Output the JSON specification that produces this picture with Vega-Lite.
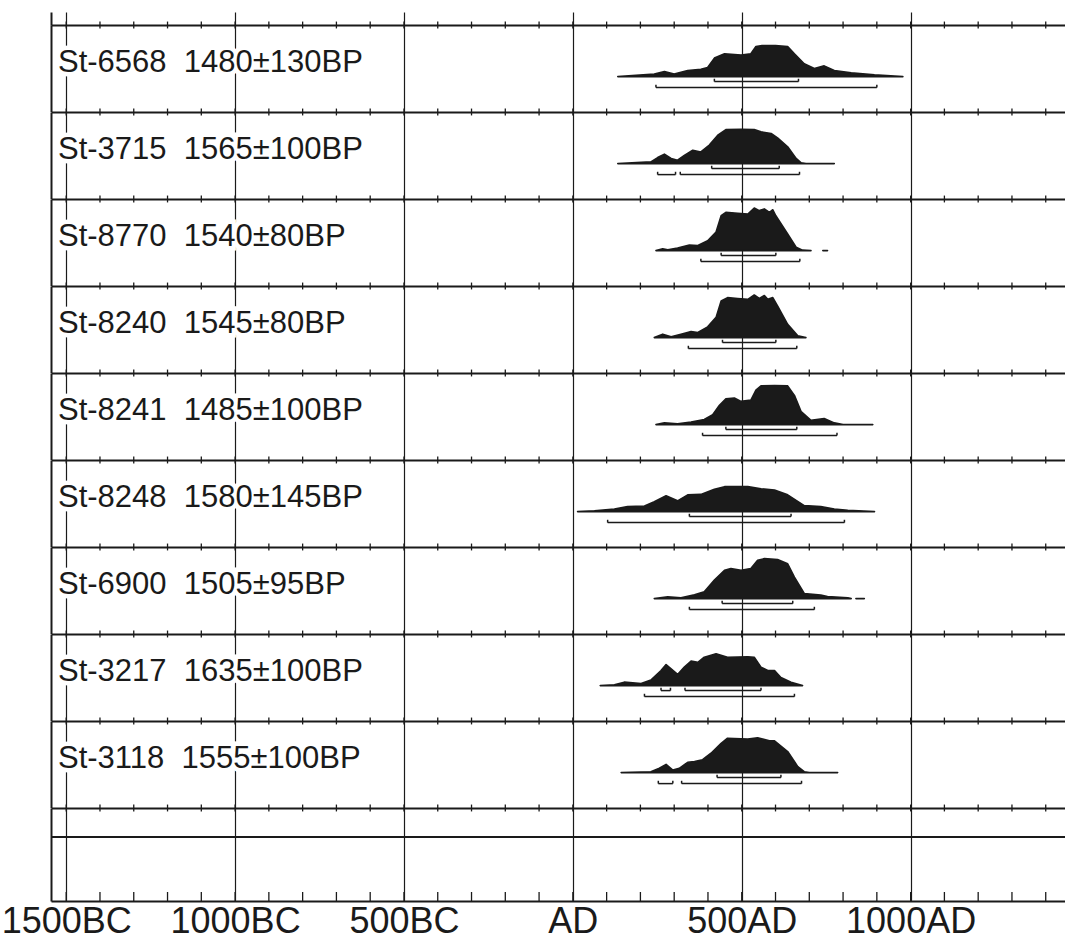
{
"$schema": "https://vega.github.io/schema/vega-lite/v6.json",
"background": "white",
"padding": {"left": 1, "top": 12, "right": 0, "bottom": 0},
"spacing": 0,
"bounds": "flush",
"config": {
  "view": {"stroke": null},
  "axis": {"domainColor": "#1a1a1a", "domainWidth": 2, "gridColor": "#1a1a1a", "gridWidth": 1.2, "gridOpacity": 1, "tickColor": "#1a1a1a", "labelColor": "#1a1a1a", "minExtent": 0, "maxExtent": 200}
},
"datasets": {
"ticks": [{"yr":-1500},{"yr":-1400},{"yr":-1300},{"yr":-1200},{"yr":-1100},{"yr":-1000},{"yr":-900},{"yr":-800},{"yr":-700},{"yr":-600},{"yr":-500},{"yr":-400},{"yr":-300},{"yr":-200},{"yr":-100},{"yr":0},{"yr":100},{"yr":200},{"yr":300},{"yr":400},{"yr":500},{"yr":600},{"yr":700},{"yr":800},{"yr":900},{"yr":1000},{"yr":1100},{"yr":1200},{"yr":1300},{"yr":1400}],
"labels": [
{"s":"St-6568","t":"St-6568\u00a0\u00a01480±130BP"},
{"s":"St-3715","t":"St-3715\u00a0\u00a01565±100BP"},
{"s":"St-8770","t":"St-8770\u00a0\u00a01540±80BP"},
{"s":"St-8240","t":"St-8240\u00a0\u00a01545±80BP"},
{"s":"St-8241","t":"St-8241\u00a0\u00a01485±100BP"},
{"s":"St-8248","t":"St-8248\u00a0\u00a01580±145BP"},
{"s":"St-6900","t":"St-6900\u00a0\u00a01505±95BP"},
{"s":"St-3217","t":"St-3217\u00a0\u00a01635±100BP"},
{"s":"St-3118","t":"St-3118\u00a0\u00a01555±100BP"}
],
"ranges": [
{"s":"St-6568","lv":68,"a":419,"b":668},{"s":"St-6568","lv":95,"a":246,"b":900},
{"s":"St-3715","lv":68,"a":411,"b":611},{"s":"St-3715","lv":95,"a":251,"b":304},{"s":"St-3715","lv":95,"a":318,"b":671},
{"s":"St-8770","lv":68,"a":439,"b":601},{"s":"St-8770","lv":95,"a":379,"b":672},
{"s":"St-8240","lv":68,"a":443,"b":601},{"s":"St-8240","lv":95,"a":342,"b":663},
{"s":"St-8241","lv":68,"a":453,"b":663},{"s":"St-8241","lv":95,"a":384,"b":782},
{"s":"St-8248","lv":68,"a":345,"b":646},{"s":"St-8248","lv":95,"a":103,"b":804},
{"s":"St-6900","lv":68,"a":442,"b":651},{"s":"St-6900","lv":95,"a":345,"b":715},
{"s":"St-3217","lv":68,"a":261,"b":289},{"s":"St-3217","lv":68,"a":332,"b":557},{"s":"St-3217","lv":95,"a":212,"b":656},
{"s":"St-3118","lv":68,"a":427,"b":616},{"s":"St-3118","lv":95,"a":253,"b":296},{"s":"St-3118","lv":95,"a":322,"b":677}
],
"dens": [
{"s":"St-6568","yr":133,"p":0},{"s":"St-6568","yr":241,"p":0.06},{"s":"St-6568","yr":271,"p":0.12},{"s":"St-6568","yr":300,"p":0.06},{"s":"St-6568","yr":340,"p":0.14},{"s":"St-6568","yr":379,"p":0.17},{"s":"St-6568","yr":399,"p":0.21},{"s":"St-6568","yr":419,"p":0.43},{"s":"St-6568","yr":449,"p":0.53},{"s":"St-6568","yr":498,"p":0.5},{"s":"St-6568","yr":527,"p":0.53},{"s":"St-6568","yr":542,"p":0.7},{"s":"St-6568","yr":560,"p":0.72},{"s":"St-6568","yr":600,"p":0.72},{"s":"St-6568","yr":636,"p":0.7},{"s":"St-6568","yr":656,"p":0.53},{"s":"St-6568","yr":685,"p":0.3},{"s":"St-6568","yr":715,"p":0.19},{"s":"St-6568","yr":744,"p":0.25},{"s":"St-6568","yr":774,"p":0.14},{"s":"St-6568","yr":824,"p":0.09},{"s":"St-6568","yr":893,"p":0.04},{"s":"St-6568","yr":977,"p":0},
{"s":"St-3715","yr":133,"p":0},{"s":"St-3715","yr":231,"p":0.04},{"s":"St-3715","yr":251,"p":0.14},{"s":"St-3715","yr":271,"p":0.22},{"s":"St-3715","yr":291,"p":0.12},{"s":"St-3715","yr":310,"p":0.08},{"s":"St-3715","yr":330,"p":0.19},{"s":"St-3715","yr":355,"p":0.31},{"s":"St-3715","yr":379,"p":0.27},{"s":"St-3715","yr":404,"p":0.43},{"s":"St-3715","yr":429,"p":0.66},{"s":"St-3715","yr":453,"p":0.79},{"s":"St-3715","yr":498,"p":0.8},{"s":"St-3715","yr":537,"p":0.79},{"s":"St-3715","yr":557,"p":0.74},{"s":"St-3715","yr":587,"p":0.7},{"s":"St-3715","yr":606,"p":0.6},{"s":"St-3715","yr":636,"p":0.39},{"s":"St-3715","yr":661,"p":0.12},{"s":"St-3715","yr":676,"p":0.02},{"s":"St-3715","yr":690,"p":0},{"s":"St-3715","yr":774,"p":0},
{"s":"St-8770","yr":246,"p":0},{"s":"St-8770","yr":266,"p":0.04},{"s":"St-8770","yr":281,"p":0.02},{"s":"St-8770","yr":310,"p":0.06},{"s":"St-8770","yr":345,"p":0.13},{"s":"St-8770","yr":370,"p":0.12},{"s":"St-8770","yr":399,"p":0.23},{"s":"St-8770","yr":424,"p":0.43},{"s":"St-8770","yr":439,"p":0.81},{"s":"St-8770","yr":453,"p":0.89},{"s":"St-8770","yr":488,"p":0.87},{"s":"St-8770","yr":518,"p":0.85},{"s":"St-8770","yr":537,"p":0.99},{"s":"St-8770","yr":552,"p":0.93},{"s":"St-8770","yr":567,"p":0.97},{"s":"St-8770","yr":582,"p":0.89},{"s":"St-8770","yr":592,"p":0.95},{"s":"St-8770","yr":601,"p":0.81},{"s":"St-8770","yr":636,"p":0.39},{"s":"St-8770","yr":661,"p":0.08},{"s":"St-8770","yr":680,"p":0.01},{"s":"St-8770","yr":705,"p":0},{"s":"St-8770","yr":740,"p":0,"g":2},{"s":"St-8770","yr":754,"p":0,"g":2},
{"s":"St-8240","yr":241,"p":0},{"s":"St-8240","yr":266,"p":0.08},{"s":"St-8240","yr":291,"p":0.02},{"s":"St-8240","yr":320,"p":0.08},{"s":"St-8240","yr":350,"p":0.14},{"s":"St-8240","yr":370,"p":0.12},{"s":"St-8240","yr":399,"p":0.25},{"s":"St-8240","yr":424,"p":0.47},{"s":"St-8240","yr":439,"p":0.85},{"s":"St-8240","yr":458,"p":0.93},{"s":"St-8240","yr":488,"p":0.91},{"s":"St-8240","yr":518,"p":0.89},{"s":"St-8240","yr":537,"p":0.99},{"s":"St-8240","yr":552,"p":0.91},{"s":"St-8240","yr":567,"p":0.98},{"s":"St-8240","yr":577,"p":0.89},{"s":"St-8240","yr":592,"p":0.93},{"s":"St-8240","yr":606,"p":0.74},{"s":"St-8240","yr":636,"p":0.31},{"s":"St-8240","yr":666,"p":0.04},{"s":"St-8240","yr":690,"p":0},
{"s":"St-8241","yr":246,"p":0},{"s":"St-8241","yr":271,"p":0.04},{"s":"St-8241","yr":310,"p":0.02},{"s":"St-8241","yr":350,"p":0.06},{"s":"St-8241","yr":389,"p":0.12},{"s":"St-8241","yr":414,"p":0.23},{"s":"St-8241","yr":434,"p":0.45},{"s":"St-8241","yr":453,"p":0.6},{"s":"St-8241","yr":478,"p":0.62},{"s":"St-8241","yr":498,"p":0.54},{"s":"St-8241","yr":527,"p":0.57},{"s":"St-8241","yr":542,"p":0.8},{"s":"St-8241","yr":557,"p":0.9},{"s":"St-8241","yr":597,"p":0.91},{"s":"St-8241","yr":636,"p":0.9},{"s":"St-8241","yr":656,"p":0.68},{"s":"St-8241","yr":676,"p":0.3},{"s":"St-8241","yr":705,"p":0.1},{"s":"St-8241","yr":744,"p":0.14},{"s":"St-8241","yr":774,"p":0.04},{"s":"St-8241","yr":800,"p":0},{"s":"St-8241","yr":888,"p":0},
{"s":"St-8248","yr":14,"p":0},{"s":"St-8248","yr":64,"p":0.02},{"s":"St-8248","yr":123,"p":0.06},{"s":"St-8248","yr":162,"p":0.12},{"s":"St-8248","yr":212,"p":0.13},{"s":"St-8248","yr":241,"p":0.23},{"s":"St-8248","yr":276,"p":0.37},{"s":"St-8248","yr":310,"p":0.25},{"s":"St-8248","yr":340,"p":0.39},{"s":"St-8248","yr":379,"p":0.4},{"s":"St-8248","yr":419,"p":0.52},{"s":"St-8248","yr":449,"p":0.58},{"s":"St-8248","yr":518,"p":0.58},{"s":"St-8248","yr":557,"p":0.53},{"s":"St-8248","yr":597,"p":0.5},{"s":"St-8248","yr":636,"p":0.39},{"s":"St-8248","yr":685,"p":0.14},{"s":"St-8248","yr":734,"p":0.12},{"s":"St-8248","yr":774,"p":0.06},{"s":"St-8248","yr":814,"p":0.03},{"s":"St-8248","yr":893,"p":0},
{"s":"St-6900","yr":241,"p":0},{"s":"St-6900","yr":281,"p":0.04},{"s":"St-6900","yr":320,"p":0.02},{"s":"St-6900","yr":360,"p":0.09},{"s":"St-6900","yr":389,"p":0.16},{"s":"St-6900","yr":419,"p":0.43},{"s":"St-6900","yr":449,"p":0.66},{"s":"St-6900","yr":468,"p":0.7},{"s":"St-6900","yr":498,"p":0.66},{"s":"St-6900","yr":527,"p":0.7},{"s":"St-6900","yr":547,"p":0.89},{"s":"St-6900","yr":567,"p":0.93},{"s":"St-6900","yr":606,"p":0.91},{"s":"St-6900","yr":636,"p":0.81},{"s":"St-6900","yr":656,"p":0.5},{"s":"St-6900","yr":685,"p":0.12},{"s":"St-6900","yr":734,"p":0.08},{"s":"St-6900","yr":754,"p":0.05},{"s":"St-6900","yr":814,"p":0.02},{"s":"St-6900","yr":824,"p":0},{"s":"St-6900","yr":838,"p":0,"g":2},{"s":"St-6900","yr":863,"p":0,"g":2},
{"s":"St-3217","yr":81,"p":0},{"s":"St-3217","yr":123,"p":0.02},{"s":"St-3217","yr":152,"p":0.08},{"s":"St-3217","yr":202,"p":0.05},{"s":"St-3217","yr":231,"p":0.13},{"s":"St-3217","yr":261,"p":0.35},{"s":"St-3217","yr":276,"p":0.49},{"s":"St-3217","yr":291,"p":0.39},{"s":"St-3217","yr":310,"p":0.26},{"s":"St-3217","yr":330,"p":0.43},{"s":"St-3217","yr":350,"p":0.57},{"s":"St-3217","yr":370,"p":0.54},{"s":"St-3217","yr":389,"p":0.66},{"s":"St-3217","yr":424,"p":0.74},{"s":"St-3217","yr":458,"p":0.66},{"s":"St-3217","yr":518,"p":0.67},{"s":"St-3217","yr":537,"p":0.66},{"s":"St-3217","yr":557,"p":0.43},{"s":"St-3217","yr":577,"p":0.35},{"s":"St-3217","yr":597,"p":0.35},{"s":"St-3217","yr":616,"p":0.19},{"s":"St-3217","yr":646,"p":0.08},{"s":"St-3217","yr":680,"p":0},
{"s":"St-3118","yr":143,"p":0},{"s":"St-3118","yr":231,"p":0.02},{"s":"St-3118","yr":256,"p":0.1},{"s":"St-3118","yr":276,"p":0.19},{"s":"St-3118","yr":296,"p":0.06},{"s":"St-3118","yr":315,"p":0.1},{"s":"St-3118","yr":340,"p":0.24},{"s":"St-3118","yr":360,"p":0.26},{"s":"St-3118","yr":384,"p":0.3},{"s":"St-3118","yr":409,"p":0.45},{"s":"St-3118","yr":439,"p":0.68},{"s":"St-3118","yr":458,"p":0.8},{"s":"St-3118","yr":518,"p":0.78},{"s":"St-3118","yr":547,"p":0.81},{"s":"St-3118","yr":582,"p":0.74},{"s":"St-3118","yr":597,"p":0.74},{"s":"St-3118","yr":636,"p":0.49},{"s":"St-3118","yr":666,"p":0.14},{"s":"St-3118","yr":685,"p":0.02},{"s":"St-3118","yr":700,"p":0},{"s":"St-3118","yr":784,"p":0}
]
},
"vconcat": [
{"width": 1015, "height": 13, "data": {"values": [{}]}, "mark": {"type": "point", "opacity": 0},
 "encoding": {"x": {"datum": 0, "type": "quantitative", "scale": {"domain": [-1545, 1460], "nice": false, "zero": false}, "axis": {"orient": "top", "values": [-1500,-1000,-500,0,500,1000], "grid": true, "ticks": false, "labels": false, "domain": false, "title": null}},
  "y": {"datum": 0, "type": "quantitative", "scale": {"domain": [0, 1], "nice": false, "zero": false}, "axis": {"orient": "left", "domain": true, "ticks": false, "labels": false, "grid": false, "title": null}}}},

{"width": 1015, "height": 86.58, "resolve": {"axis": {"x": "independent", "y": "independent"}}, "layer": [
 {"data": {"name": "ticks"}, "mark": {"type": "rule", "color": "#1a1a1a", "strokeWidth": 1.3}, "encoding": {"x": {"field": "yr", "type": "quantitative", "scale": {"domain": [-1545, 1460], "nice": false, "zero": false}, "axis": {"orient": "top", "values": [-1500,-1000,-500,0,500,1000], "grid": true, "ticks": false, "labels": false, "domain": true, "title": null}}, "y": {"datum": 1.28, "type": "quantitative", "scale": {"domain": [-0.8135, 1.2], "nice": false, "zero": false}, "axis": {"orient": "left", "domain": true, "ticks": false, "labels": false, "grid": false, "title": null}}, "y2": {"datum": 1.12}}},
 {"data": {"name": "dens"}, "transform": [{"filter": "datum.s=='St-6568'"}], "mark": {"type": "area", "fill": "#1a1a1a", "stroke": "#1a1a1a", "strokeWidth": 1.6, "strokeJoin": "round"}, "encoding": {"x": {"field": "yr", "type": "quantitative", "axis": null}, "y": {"field": "p", "type": "quantitative", "axis": null, "stack": null}, "y2": {"datum": 0}, "detail": {"field": "g"}}},
 {"data": {"name": "ranges"}, "transform": [{"filter": "datum.s=='St-6568' && datum.lv==68"}], "mark": {"type": "rule", "color": "#1a1a1a", "strokeWidth": 1.5}, "encoding": {"x": {"field": "a", "type": "quantitative", "axis": null}, "x2": {"field": "b"}, "y": {"datum": -0.116, "type": "quantitative", "axis": null}}},
 {"data": {"name": "ranges"}, "transform": [{"filter": "datum.s=='St-6568' && datum.lv==95"}], "mark": {"type": "rule", "color": "#1a1a1a", "strokeWidth": 1.5}, "encoding": {"x": {"field": "a", "type": "quantitative", "axis": null}, "x2": {"field": "b"}, "y": {"datum": -0.256, "type": "quantitative", "axis": null}}},
 {"data": {"name": "ranges"}, "transform": [{"filter": "datum.s=='St-6568' && datum.lv==68"}, {"fold": ["a", "b"], "as": ["k", "e"]}], "mark": {"type": "rule", "color": "#1a1a1a", "strokeWidth": 1.5}, "encoding": {"x": {"field": "e", "type": "quantitative", "axis": null}, "y": {"datum": -0.116, "type": "quantitative", "axis": null}, "y2": {"datum": -0.05}}},
 {"data": {"name": "ranges"}, "transform": [{"filter": "datum.s=='St-6568' && datum.lv==95"}, {"fold": ["a", "b"], "as": ["k", "e"]}], "mark": {"type": "rule", "color": "#1a1a1a", "strokeWidth": 1.5}, "encoding": {"x": {"field": "e", "type": "quantitative", "axis": null}, "y": {"datum": -0.256, "type": "quantitative", "axis": null}, "y2": {"datum": -0.19}}},
 {"data": {"name": "labels"}, "transform": [{"filter": "datum.s=='St-6568'"}], "mark": {"type": "text", "align": "left", "baseline": "alphabetic", "dx": 7, "font": "Liberation Sans", "fontSize": 31, "fill": "white", "stroke": "white", "strokeWidth": 9}, "encoding": {"text": {"field": "t"}, "x": {"datum": -1545, "type": "quantitative", "axis": null}, "y": {"datum": 0.1, "type": "quantitative", "axis": null}}},
 {"data": {"name": "labels"}, "transform": [{"filter": "datum.s=='St-6568'"}], "mark": {"type": "text", "align": "left", "baseline": "alphabetic", "dx": 7, "font": "Liberation Sans", "fontSize": 31, "fill": "#1a1a1a"}, "encoding": {"text": {"field": "t"}, "x": {"datum": -1545, "type": "quantitative", "axis": null}, "y": {"datum": 0.1, "type": "quantitative", "axis": null}}}
]},

{"width": 1015, "height": 86.58, "resolve": {"axis": {"x": "independent", "y": "independent"}}, "layer": [
 {"data": {"name": "ticks"}, "mark": {"type": "rule", "color": "#1a1a1a", "strokeWidth": 1.3}, "encoding": {"x": {"field": "yr", "type": "quantitative", "scale": {"domain": [-1545, 1460], "nice": false, "zero": false}, "axis": {"orient": "top", "values": [-1500,-1000,-500,0,500,1000], "grid": true, "ticks": false, "labels": false, "domain": true, "title": null}}, "y": {"datum": 1.28, "type": "quantitative", "scale": {"domain": [-0.8135, 1.2], "nice": false, "zero": false}, "axis": {"orient": "left", "domain": true, "ticks": false, "labels": false, "grid": false, "title": null}}, "y2": {"datum": 1.12}}},
 {"data": {"name": "dens"}, "transform": [{"filter": "datum.s=='St-3715'"}], "mark": {"type": "area", "fill": "#1a1a1a", "stroke": "#1a1a1a", "strokeWidth": 1.6, "strokeJoin": "round"}, "encoding": {"x": {"field": "yr", "type": "quantitative", "axis": null}, "y": {"field": "p", "type": "quantitative", "axis": null, "stack": null}, "y2": {"datum": 0}, "detail": {"field": "g"}}},
 {"data": {"name": "ranges"}, "transform": [{"filter": "datum.s=='St-3715' && datum.lv==68"}], "mark": {"type": "rule", "color": "#1a1a1a", "strokeWidth": 1.5}, "encoding": {"x": {"field": "a", "type": "quantitative", "axis": null}, "x2": {"field": "b"}, "y": {"datum": -0.116, "type": "quantitative", "axis": null}}},
 {"data": {"name": "ranges"}, "transform": [{"filter": "datum.s=='St-3715' && datum.lv==95"}], "mark": {"type": "rule", "color": "#1a1a1a", "strokeWidth": 1.5}, "encoding": {"x": {"field": "a", "type": "quantitative", "axis": null}, "x2": {"field": "b"}, "y": {"datum": -0.256, "type": "quantitative", "axis": null}}},
 {"data": {"name": "ranges"}, "transform": [{"filter": "datum.s=='St-3715' && datum.lv==68"}, {"fold": ["a", "b"], "as": ["k", "e"]}], "mark": {"type": "rule", "color": "#1a1a1a", "strokeWidth": 1.5}, "encoding": {"x": {"field": "e", "type": "quantitative", "axis": null}, "y": {"datum": -0.116, "type": "quantitative", "axis": null}, "y2": {"datum": -0.05}}},
 {"data": {"name": "ranges"}, "transform": [{"filter": "datum.s=='St-3715' && datum.lv==95"}, {"fold": ["a", "b"], "as": ["k", "e"]}], "mark": {"type": "rule", "color": "#1a1a1a", "strokeWidth": 1.5}, "encoding": {"x": {"field": "e", "type": "quantitative", "axis": null}, "y": {"datum": -0.256, "type": "quantitative", "axis": null}, "y2": {"datum": -0.19}}},
 {"data": {"name": "labels"}, "transform": [{"filter": "datum.s=='St-3715'"}], "mark": {"type": "text", "align": "left", "baseline": "alphabetic", "dx": 7, "font": "Liberation Sans", "fontSize": 31, "fill": "white", "stroke": "white", "strokeWidth": 9}, "encoding": {"text": {"field": "t"}, "x": {"datum": -1545, "type": "quantitative", "axis": null}, "y": {"datum": 0.1, "type": "quantitative", "axis": null}}},
 {"data": {"name": "labels"}, "transform": [{"filter": "datum.s=='St-3715'"}], "mark": {"type": "text", "align": "left", "baseline": "alphabetic", "dx": 7, "font": "Liberation Sans", "fontSize": 31, "fill": "#1a1a1a"}, "encoding": {"text": {"field": "t"}, "x": {"datum": -1545, "type": "quantitative", "axis": null}, "y": {"datum": 0.1, "type": "quantitative", "axis": null}}}
]},

{"width": 1015, "height": 86.58, "resolve": {"axis": {"x": "independent", "y": "independent"}}, "layer": [
 {"data": {"name": "ticks"}, "mark": {"type": "rule", "color": "#1a1a1a", "strokeWidth": 1.3}, "encoding": {"x": {"field": "yr", "type": "quantitative", "scale": {"domain": [-1545, 1460], "nice": false, "zero": false}, "axis": {"orient": "top", "values": [-1500,-1000,-500,0,500,1000], "grid": true, "ticks": false, "labels": false, "domain": true, "title": null}}, "y": {"datum": 1.28, "type": "quantitative", "scale": {"domain": [-0.8135, 1.2], "nice": false, "zero": false}, "axis": {"orient": "left", "domain": true, "ticks": false, "labels": false, "grid": false, "title": null}}, "y2": {"datum": 1.12}}},
 {"data": {"name": "dens"}, "transform": [{"filter": "datum.s=='St-8770'"}], "mark": {"type": "area", "fill": "#1a1a1a", "stroke": "#1a1a1a", "strokeWidth": 1.6, "strokeJoin": "round"}, "encoding": {"x": {"field": "yr", "type": "quantitative", "axis": null}, "y": {"field": "p", "type": "quantitative", "axis": null, "stack": null}, "y2": {"datum": 0}, "detail": {"field": "g"}}},
 {"data": {"name": "ranges"}, "transform": [{"filter": "datum.s=='St-8770' && datum.lv==68"}], "mark": {"type": "rule", "color": "#1a1a1a", "strokeWidth": 1.5}, "encoding": {"x": {"field": "a", "type": "quantitative", "axis": null}, "x2": {"field": "b"}, "y": {"datum": -0.116, "type": "quantitative", "axis": null}}},
 {"data": {"name": "ranges"}, "transform": [{"filter": "datum.s=='St-8770' && datum.lv==95"}], "mark": {"type": "rule", "color": "#1a1a1a", "strokeWidth": 1.5}, "encoding": {"x": {"field": "a", "type": "quantitative", "axis": null}, "x2": {"field": "b"}, "y": {"datum": -0.256, "type": "quantitative", "axis": null}}},
 {"data": {"name": "ranges"}, "transform": [{"filter": "datum.s=='St-8770' && datum.lv==68"}, {"fold": ["a", "b"], "as": ["k", "e"]}], "mark": {"type": "rule", "color": "#1a1a1a", "strokeWidth": 1.5}, "encoding": {"x": {"field": "e", "type": "quantitative", "axis": null}, "y": {"datum": -0.116, "type": "quantitative", "axis": null}, "y2": {"datum": -0.05}}},
 {"data": {"name": "ranges"}, "transform": [{"filter": "datum.s=='St-8770' && datum.lv==95"}, {"fold": ["a", "b"], "as": ["k", "e"]}], "mark": {"type": "rule", "color": "#1a1a1a", "strokeWidth": 1.5}, "encoding": {"x": {"field": "e", "type": "quantitative", "axis": null}, "y": {"datum": -0.256, "type": "quantitative", "axis": null}, "y2": {"datum": -0.19}}},
 {"data": {"name": "labels"}, "transform": [{"filter": "datum.s=='St-8770'"}], "mark": {"type": "text", "align": "left", "baseline": "alphabetic", "dx": 7, "font": "Liberation Sans", "fontSize": 31, "fill": "white", "stroke": "white", "strokeWidth": 9}, "encoding": {"text": {"field": "t"}, "x": {"datum": -1545, "type": "quantitative", "axis": null}, "y": {"datum": 0.1, "type": "quantitative", "axis": null}}},
 {"data": {"name": "labels"}, "transform": [{"filter": "datum.s=='St-8770'"}], "mark": {"type": "text", "align": "left", "baseline": "alphabetic", "dx": 7, "font": "Liberation Sans", "fontSize": 31, "fill": "#1a1a1a"}, "encoding": {"text": {"field": "t"}, "x": {"datum": -1545, "type": "quantitative", "axis": null}, "y": {"datum": 0.1, "type": "quantitative", "axis": null}}}
]},

{"width": 1015, "height": 86.58, "resolve": {"axis": {"x": "independent", "y": "independent"}}, "layer": [
 {"data": {"name": "ticks"}, "mark": {"type": "rule", "color": "#1a1a1a", "strokeWidth": 1.3}, "encoding": {"x": {"field": "yr", "type": "quantitative", "scale": {"domain": [-1545, 1460], "nice": false, "zero": false}, "axis": {"orient": "top", "values": [-1500,-1000,-500,0,500,1000], "grid": true, "ticks": false, "labels": false, "domain": true, "title": null}}, "y": {"datum": 1.28, "type": "quantitative", "scale": {"domain": [-0.8135, 1.2], "nice": false, "zero": false}, "axis": {"orient": "left", "domain": true, "ticks": false, "labels": false, "grid": false, "title": null}}, "y2": {"datum": 1.12}}},
 {"data": {"name": "dens"}, "transform": [{"filter": "datum.s=='St-8240'"}], "mark": {"type": "area", "fill": "#1a1a1a", "stroke": "#1a1a1a", "strokeWidth": 1.6, "strokeJoin": "round"}, "encoding": {"x": {"field": "yr", "type": "quantitative", "axis": null}, "y": {"field": "p", "type": "quantitative", "axis": null, "stack": null}, "y2": {"datum": 0}, "detail": {"field": "g"}}},
 {"data": {"name": "ranges"}, "transform": [{"filter": "datum.s=='St-8240' && datum.lv==68"}], "mark": {"type": "rule", "color": "#1a1a1a", "strokeWidth": 1.5}, "encoding": {"x": {"field": "a", "type": "quantitative", "axis": null}, "x2": {"field": "b"}, "y": {"datum": -0.116, "type": "quantitative", "axis": null}}},
 {"data": {"name": "ranges"}, "transform": [{"filter": "datum.s=='St-8240' && datum.lv==95"}], "mark": {"type": "rule", "color": "#1a1a1a", "strokeWidth": 1.5}, "encoding": {"x": {"field": "a", "type": "quantitative", "axis": null}, "x2": {"field": "b"}, "y": {"datum": -0.256, "type": "quantitative", "axis": null}}},
 {"data": {"name": "ranges"}, "transform": [{"filter": "datum.s=='St-8240' && datum.lv==68"}, {"fold": ["a", "b"], "as": ["k", "e"]}], "mark": {"type": "rule", "color": "#1a1a1a", "strokeWidth": 1.5}, "encoding": {"x": {"field": "e", "type": "quantitative", "axis": null}, "y": {"datum": -0.116, "type": "quantitative", "axis": null}, "y2": {"datum": -0.05}}},
 {"data": {"name": "ranges"}, "transform": [{"filter": "datum.s=='St-8240' && datum.lv==95"}, {"fold": ["a", "b"], "as": ["k", "e"]}], "mark": {"type": "rule", "color": "#1a1a1a", "strokeWidth": 1.5}, "encoding": {"x": {"field": "e", "type": "quantitative", "axis": null}, "y": {"datum": -0.256, "type": "quantitative", "axis": null}, "y2": {"datum": -0.19}}},
 {"data": {"name": "labels"}, "transform": [{"filter": "datum.s=='St-8240'"}], "mark": {"type": "text", "align": "left", "baseline": "alphabetic", "dx": 7, "font": "Liberation Sans", "fontSize": 31, "fill": "white", "stroke": "white", "strokeWidth": 9}, "encoding": {"text": {"field": "t"}, "x": {"datum": -1545, "type": "quantitative", "axis": null}, "y": {"datum": 0.1, "type": "quantitative", "axis": null}}},
 {"data": {"name": "labels"}, "transform": [{"filter": "datum.s=='St-8240'"}], "mark": {"type": "text", "align": "left", "baseline": "alphabetic", "dx": 7, "font": "Liberation Sans", "fontSize": 31, "fill": "#1a1a1a"}, "encoding": {"text": {"field": "t"}, "x": {"datum": -1545, "type": "quantitative", "axis": null}, "y": {"datum": 0.1, "type": "quantitative", "axis": null}}}
]},

{"width": 1015, "height": 86.58, "resolve": {"axis": {"x": "independent", "y": "independent"}}, "layer": [
 {"data": {"name": "ticks"}, "mark": {"type": "rule", "color": "#1a1a1a", "strokeWidth": 1.3}, "encoding": {"x": {"field": "yr", "type": "quantitative", "scale": {"domain": [-1545, 1460], "nice": false, "zero": false}, "axis": {"orient": "top", "values": [-1500,-1000,-500,0,500,1000], "grid": true, "ticks": false, "labels": false, "domain": true, "title": null}}, "y": {"datum": 1.28, "type": "quantitative", "scale": {"domain": [-0.8135, 1.2], "nice": false, "zero": false}, "axis": {"orient": "left", "domain": true, "ticks": false, "labels": false, "grid": false, "title": null}}, "y2": {"datum": 1.12}}},
 {"data": {"name": "dens"}, "transform": [{"filter": "datum.s=='St-8241'"}], "mark": {"type": "area", "fill": "#1a1a1a", "stroke": "#1a1a1a", "strokeWidth": 1.6, "strokeJoin": "round"}, "encoding": {"x": {"field": "yr", "type": "quantitative", "axis": null}, "y": {"field": "p", "type": "quantitative", "axis": null, "stack": null}, "y2": {"datum": 0}, "detail": {"field": "g"}}},
 {"data": {"name": "ranges"}, "transform": [{"filter": "datum.s=='St-8241' && datum.lv==68"}], "mark": {"type": "rule", "color": "#1a1a1a", "strokeWidth": 1.5}, "encoding": {"x": {"field": "a", "type": "quantitative", "axis": null}, "x2": {"field": "b"}, "y": {"datum": -0.116, "type": "quantitative", "axis": null}}},
 {"data": {"name": "ranges"}, "transform": [{"filter": "datum.s=='St-8241' && datum.lv==95"}], "mark": {"type": "rule", "color": "#1a1a1a", "strokeWidth": 1.5}, "encoding": {"x": {"field": "a", "type": "quantitative", "axis": null}, "x2": {"field": "b"}, "y": {"datum": -0.256, "type": "quantitative", "axis": null}}},
 {"data": {"name": "ranges"}, "transform": [{"filter": "datum.s=='St-8241' && datum.lv==68"}, {"fold": ["a", "b"], "as": ["k", "e"]}], "mark": {"type": "rule", "color": "#1a1a1a", "strokeWidth": 1.5}, "encoding": {"x": {"field": "e", "type": "quantitative", "axis": null}, "y": {"datum": -0.116, "type": "quantitative", "axis": null}, "y2": {"datum": -0.05}}},
 {"data": {"name": "ranges"}, "transform": [{"filter": "datum.s=='St-8241' && datum.lv==95"}, {"fold": ["a", "b"], "as": ["k", "e"]}], "mark": {"type": "rule", "color": "#1a1a1a", "strokeWidth": 1.5}, "encoding": {"x": {"field": "e", "type": "quantitative", "axis": null}, "y": {"datum": -0.256, "type": "quantitative", "axis": null}, "y2": {"datum": -0.19}}},
 {"data": {"name": "labels"}, "transform": [{"filter": "datum.s=='St-8241'"}], "mark": {"type": "text", "align": "left", "baseline": "alphabetic", "dx": 7, "font": "Liberation Sans", "fontSize": 31, "fill": "white", "stroke": "white", "strokeWidth": 9}, "encoding": {"text": {"field": "t"}, "x": {"datum": -1545, "type": "quantitative", "axis": null}, "y": {"datum": 0.1, "type": "quantitative", "axis": null}}},
 {"data": {"name": "labels"}, "transform": [{"filter": "datum.s=='St-8241'"}], "mark": {"type": "text", "align": "left", "baseline": "alphabetic", "dx": 7, "font": "Liberation Sans", "fontSize": 31, "fill": "#1a1a1a"}, "encoding": {"text": {"field": "t"}, "x": {"datum": -1545, "type": "quantitative", "axis": null}, "y": {"datum": 0.1, "type": "quantitative", "axis": null}}}
]},

{"width": 1015, "height": 86.58, "resolve": {"axis": {"x": "independent", "y": "independent"}}, "layer": [
 {"data": {"name": "ticks"}, "mark": {"type": "rule", "color": "#1a1a1a", "strokeWidth": 1.3}, "encoding": {"x": {"field": "yr", "type": "quantitative", "scale": {"domain": [-1545, 1460], "nice": false, "zero": false}, "axis": {"orient": "top", "values": [-1500,-1000,-500,0,500,1000], "grid": true, "ticks": false, "labels": false, "domain": true, "title": null}}, "y": {"datum": 1.28, "type": "quantitative", "scale": {"domain": [-0.8135, 1.2], "nice": false, "zero": false}, "axis": {"orient": "left", "domain": true, "ticks": false, "labels": false, "grid": false, "title": null}}, "y2": {"datum": 1.12}}},
 {"data": {"name": "dens"}, "transform": [{"filter": "datum.s=='St-8248'"}], "mark": {"type": "area", "fill": "#1a1a1a", "stroke": "#1a1a1a", "strokeWidth": 1.6, "strokeJoin": "round"}, "encoding": {"x": {"field": "yr", "type": "quantitative", "axis": null}, "y": {"field": "p", "type": "quantitative", "axis": null, "stack": null}, "y2": {"datum": 0}, "detail": {"field": "g"}}},
 {"data": {"name": "ranges"}, "transform": [{"filter": "datum.s=='St-8248' && datum.lv==68"}], "mark": {"type": "rule", "color": "#1a1a1a", "strokeWidth": 1.5}, "encoding": {"x": {"field": "a", "type": "quantitative", "axis": null}, "x2": {"field": "b"}, "y": {"datum": -0.116, "type": "quantitative", "axis": null}}},
 {"data": {"name": "ranges"}, "transform": [{"filter": "datum.s=='St-8248' && datum.lv==95"}], "mark": {"type": "rule", "color": "#1a1a1a", "strokeWidth": 1.5}, "encoding": {"x": {"field": "a", "type": "quantitative", "axis": null}, "x2": {"field": "b"}, "y": {"datum": -0.256, "type": "quantitative", "axis": null}}},
 {"data": {"name": "ranges"}, "transform": [{"filter": "datum.s=='St-8248' && datum.lv==68"}, {"fold": ["a", "b"], "as": ["k", "e"]}], "mark": {"type": "rule", "color": "#1a1a1a", "strokeWidth": 1.5}, "encoding": {"x": {"field": "e", "type": "quantitative", "axis": null}, "y": {"datum": -0.116, "type": "quantitative", "axis": null}, "y2": {"datum": -0.05}}},
 {"data": {"name": "ranges"}, "transform": [{"filter": "datum.s=='St-8248' && datum.lv==95"}, {"fold": ["a", "b"], "as": ["k", "e"]}], "mark": {"type": "rule", "color": "#1a1a1a", "strokeWidth": 1.5}, "encoding": {"x": {"field": "e", "type": "quantitative", "axis": null}, "y": {"datum": -0.256, "type": "quantitative", "axis": null}, "y2": {"datum": -0.19}}},
 {"data": {"name": "labels"}, "transform": [{"filter": "datum.s=='St-8248'"}], "mark": {"type": "text", "align": "left", "baseline": "alphabetic", "dx": 7, "font": "Liberation Sans", "fontSize": 31, "fill": "white", "stroke": "white", "strokeWidth": 9}, "encoding": {"text": {"field": "t"}, "x": {"datum": -1545, "type": "quantitative", "axis": null}, "y": {"datum": 0.1, "type": "quantitative", "axis": null}}},
 {"data": {"name": "labels"}, "transform": [{"filter": "datum.s=='St-8248'"}], "mark": {"type": "text", "align": "left", "baseline": "alphabetic", "dx": 7, "font": "Liberation Sans", "fontSize": 31, "fill": "#1a1a1a"}, "encoding": {"text": {"field": "t"}, "x": {"datum": -1545, "type": "quantitative", "axis": null}, "y": {"datum": 0.1, "type": "quantitative", "axis": null}}}
]},

{"width": 1015, "height": 86.58, "resolve": {"axis": {"x": "independent", "y": "independent"}}, "layer": [
 {"data": {"name": "ticks"}, "mark": {"type": "rule", "color": "#1a1a1a", "strokeWidth": 1.3}, "encoding": {"x": {"field": "yr", "type": "quantitative", "scale": {"domain": [-1545, 1460], "nice": false, "zero": false}, "axis": {"orient": "top", "values": [-1500,-1000,-500,0,500,1000], "grid": true, "ticks": false, "labels": false, "domain": true, "title": null}}, "y": {"datum": 1.28, "type": "quantitative", "scale": {"domain": [-0.8135, 1.2], "nice": false, "zero": false}, "axis": {"orient": "left", "domain": true, "ticks": false, "labels": false, "grid": false, "title": null}}, "y2": {"datum": 1.12}}},
 {"data": {"name": "dens"}, "transform": [{"filter": "datum.s=='St-6900'"}], "mark": {"type": "area", "fill": "#1a1a1a", "stroke": "#1a1a1a", "strokeWidth": 1.6, "strokeJoin": "round"}, "encoding": {"x": {"field": "yr", "type": "quantitative", "axis": null}, "y": {"field": "p", "type": "quantitative", "axis": null, "stack": null}, "y2": {"datum": 0}, "detail": {"field": "g"}}},
 {"data": {"name": "ranges"}, "transform": [{"filter": "datum.s=='St-6900' && datum.lv==68"}], "mark": {"type": "rule", "color": "#1a1a1a", "strokeWidth": 1.5}, "encoding": {"x": {"field": "a", "type": "quantitative", "axis": null}, "x2": {"field": "b"}, "y": {"datum": -0.116, "type": "quantitative", "axis": null}}},
 {"data": {"name": "ranges"}, "transform": [{"filter": "datum.s=='St-6900' && datum.lv==95"}], "mark": {"type": "rule", "color": "#1a1a1a", "strokeWidth": 1.5}, "encoding": {"x": {"field": "a", "type": "quantitative", "axis": null}, "x2": {"field": "b"}, "y": {"datum": -0.256, "type": "quantitative", "axis": null}}},
 {"data": {"name": "ranges"}, "transform": [{"filter": "datum.s=='St-6900' && datum.lv==68"}, {"fold": ["a", "b"], "as": ["k", "e"]}], "mark": {"type": "rule", "color": "#1a1a1a", "strokeWidth": 1.5}, "encoding": {"x": {"field": "e", "type": "quantitative", "axis": null}, "y": {"datum": -0.116, "type": "quantitative", "axis": null}, "y2": {"datum": -0.05}}},
 {"data": {"name": "ranges"}, "transform": [{"filter": "datum.s=='St-6900' && datum.lv==95"}, {"fold": ["a", "b"], "as": ["k", "e"]}], "mark": {"type": "rule", "color": "#1a1a1a", "strokeWidth": 1.5}, "encoding": {"x": {"field": "e", "type": "quantitative", "axis": null}, "y": {"datum": -0.256, "type": "quantitative", "axis": null}, "y2": {"datum": -0.19}}},
 {"data": {"name": "labels"}, "transform": [{"filter": "datum.s=='St-6900'"}], "mark": {"type": "text", "align": "left", "baseline": "alphabetic", "dx": 7, "font": "Liberation Sans", "fontSize": 31, "fill": "white", "stroke": "white", "strokeWidth": 9}, "encoding": {"text": {"field": "t"}, "x": {"datum": -1545, "type": "quantitative", "axis": null}, "y": {"datum": 0.1, "type": "quantitative", "axis": null}}},
 {"data": {"name": "labels"}, "transform": [{"filter": "datum.s=='St-6900'"}], "mark": {"type": "text", "align": "left", "baseline": "alphabetic", "dx": 7, "font": "Liberation Sans", "fontSize": 31, "fill": "#1a1a1a"}, "encoding": {"text": {"field": "t"}, "x": {"datum": -1545, "type": "quantitative", "axis": null}, "y": {"datum": 0.1, "type": "quantitative", "axis": null}}}
]},

{"width": 1015, "height": 86.58, "resolve": {"axis": {"x": "independent", "y": "independent"}}, "layer": [
 {"data": {"name": "ticks"}, "mark": {"type": "rule", "color": "#1a1a1a", "strokeWidth": 1.3}, "encoding": {"x": {"field": "yr", "type": "quantitative", "scale": {"domain": [-1545, 1460], "nice": false, "zero": false}, "axis": {"orient": "top", "values": [-1500,-1000,-500,0,500,1000], "grid": true, "ticks": false, "labels": false, "domain": true, "title": null}}, "y": {"datum": 1.28, "type": "quantitative", "scale": {"domain": [-0.8135, 1.2], "nice": false, "zero": false}, "axis": {"orient": "left", "domain": true, "ticks": false, "labels": false, "grid": false, "title": null}}, "y2": {"datum": 1.12}}},
 {"data": {"name": "dens"}, "transform": [{"filter": "datum.s=='St-3217'"}], "mark": {"type": "area", "fill": "#1a1a1a", "stroke": "#1a1a1a", "strokeWidth": 1.6, "strokeJoin": "round"}, "encoding": {"x": {"field": "yr", "type": "quantitative", "axis": null}, "y": {"field": "p", "type": "quantitative", "axis": null, "stack": null}, "y2": {"datum": 0}, "detail": {"field": "g"}}},
 {"data": {"name": "ranges"}, "transform": [{"filter": "datum.s=='St-3217' && datum.lv==68"}], "mark": {"type": "rule", "color": "#1a1a1a", "strokeWidth": 1.5}, "encoding": {"x": {"field": "a", "type": "quantitative", "axis": null}, "x2": {"field": "b"}, "y": {"datum": -0.116, "type": "quantitative", "axis": null}}},
 {"data": {"name": "ranges"}, "transform": [{"filter": "datum.s=='St-3217' && datum.lv==95"}], "mark": {"type": "rule", "color": "#1a1a1a", "strokeWidth": 1.5}, "encoding": {"x": {"field": "a", "type": "quantitative", "axis": null}, "x2": {"field": "b"}, "y": {"datum": -0.256, "type": "quantitative", "axis": null}}},
 {"data": {"name": "ranges"}, "transform": [{"filter": "datum.s=='St-3217' && datum.lv==68"}, {"fold": ["a", "b"], "as": ["k", "e"]}], "mark": {"type": "rule", "color": "#1a1a1a", "strokeWidth": 1.5}, "encoding": {"x": {"field": "e", "type": "quantitative", "axis": null}, "y": {"datum": -0.116, "type": "quantitative", "axis": null}, "y2": {"datum": -0.05}}},
 {"data": {"name": "ranges"}, "transform": [{"filter": "datum.s=='St-3217' && datum.lv==95"}, {"fold": ["a", "b"], "as": ["k", "e"]}], "mark": {"type": "rule", "color": "#1a1a1a", "strokeWidth": 1.5}, "encoding": {"x": {"field": "e", "type": "quantitative", "axis": null}, "y": {"datum": -0.256, "type": "quantitative", "axis": null}, "y2": {"datum": -0.19}}},
 {"data": {"name": "labels"}, "transform": [{"filter": "datum.s=='St-3217'"}], "mark": {"type": "text", "align": "left", "baseline": "alphabetic", "dx": 7, "font": "Liberation Sans", "fontSize": 31, "fill": "white", "stroke": "white", "strokeWidth": 9}, "encoding": {"text": {"field": "t"}, "x": {"datum": -1545, "type": "quantitative", "axis": null}, "y": {"datum": 0.1, "type": "quantitative", "axis": null}}},
 {"data": {"name": "labels"}, "transform": [{"filter": "datum.s=='St-3217'"}], "mark": {"type": "text", "align": "left", "baseline": "alphabetic", "dx": 7, "font": "Liberation Sans", "fontSize": 31, "fill": "#1a1a1a"}, "encoding": {"text": {"field": "t"}, "x": {"datum": -1545, "type": "quantitative", "axis": null}, "y": {"datum": 0.1, "type": "quantitative", "axis": null}}}
]},

{"width": 1015, "height": 86.58, "resolve": {"axis": {"x": "independent", "y": "independent"}}, "layer": [
 {"data": {"name": "ticks"}, "mark": {"type": "rule", "color": "#1a1a1a", "strokeWidth": 1.3}, "encoding": {"x": {"field": "yr", "type": "quantitative", "scale": {"domain": [-1545, 1460], "nice": false, "zero": false}, "axis": {"orient": "top", "values": [-1500,-1000,-500,0,500,1000], "grid": true, "ticks": false, "labels": false, "domain": true, "title": null}}, "y": {"datum": 1.28, "type": "quantitative", "scale": {"domain": [-0.8135, 1.2], "nice": false, "zero": false}, "axis": {"orient": "left", "domain": true, "ticks": false, "labels": false, "grid": false, "title": null}}, "y2": {"datum": 1.12}}},
 {"data": {"name": "dens"}, "transform": [{"filter": "datum.s=='St-3118'"}], "mark": {"type": "area", "fill": "#1a1a1a", "stroke": "#1a1a1a", "strokeWidth": 1.6, "strokeJoin": "round"}, "encoding": {"x": {"field": "yr", "type": "quantitative", "axis": null}, "y": {"field": "p", "type": "quantitative", "axis": null, "stack": null}, "y2": {"datum": 0}, "detail": {"field": "g"}}},
 {"data": {"name": "ranges"}, "transform": [{"filter": "datum.s=='St-3118' && datum.lv==68"}], "mark": {"type": "rule", "color": "#1a1a1a", "strokeWidth": 1.5}, "encoding": {"x": {"field": "a", "type": "quantitative", "axis": null}, "x2": {"field": "b"}, "y": {"datum": -0.116, "type": "quantitative", "axis": null}}},
 {"data": {"name": "ranges"}, "transform": [{"filter": "datum.s=='St-3118' && datum.lv==95"}], "mark": {"type": "rule", "color": "#1a1a1a", "strokeWidth": 1.5}, "encoding": {"x": {"field": "a", "type": "quantitative", "axis": null}, "x2": {"field": "b"}, "y": {"datum": -0.256, "type": "quantitative", "axis": null}}},
 {"data": {"name": "ranges"}, "transform": [{"filter": "datum.s=='St-3118' && datum.lv==68"}, {"fold": ["a", "b"], "as": ["k", "e"]}], "mark": {"type": "rule", "color": "#1a1a1a", "strokeWidth": 1.5}, "encoding": {"x": {"field": "e", "type": "quantitative", "axis": null}, "y": {"datum": -0.116, "type": "quantitative", "axis": null}, "y2": {"datum": -0.05}}},
 {"data": {"name": "ranges"}, "transform": [{"filter": "datum.s=='St-3118' && datum.lv==95"}, {"fold": ["a", "b"], "as": ["k", "e"]}], "mark": {"type": "rule", "color": "#1a1a1a", "strokeWidth": 1.5}, "encoding": {"x": {"field": "e", "type": "quantitative", "axis": null}, "y": {"datum": -0.256, "type": "quantitative", "axis": null}, "y2": {"datum": -0.19}}},
 {"data": {"name": "labels"}, "transform": [{"filter": "datum.s=='St-3118'"}], "mark": {"type": "text", "align": "left", "baseline": "alphabetic", "dx": 7, "font": "Liberation Sans", "fontSize": 31, "fill": "white", "stroke": "white", "strokeWidth": 9}, "encoding": {"text": {"field": "t"}, "x": {"datum": -1545, "type": "quantitative", "axis": null}, "y": {"datum": 0.1, "type": "quantitative", "axis": null}}},
 {"data": {"name": "labels"}, "transform": [{"filter": "datum.s=='St-3118'"}], "mark": {"type": "text", "align": "left", "baseline": "alphabetic", "dx": 7, "font": "Liberation Sans", "fontSize": 31, "fill": "#1a1a1a"}, "encoding": {"text": {"field": "t"}, "x": {"datum": -1545, "type": "quantitative", "axis": null}, "y": {"datum": 0.1, "type": "quantitative", "axis": null}}}
]},

{"width": 1015, "height": 93, "resolve": {"axis": {"x": "independent", "y": "independent"}}, "layer": [
 {"data": {"name": "ticks"}, "mark": {"type": "rule", "color": "#1a1a1a", "strokeWidth": 1.3}, "encoding": {"x": {"field": "yr", "type": "quantitative", "scale": {"domain": [-1545, 1460], "nice": false, "zero": false}, "axis": {"orient": "top", "values": [-1500,-1000,-500,0,500,1000], "grid": true, "ticks": false, "labels": false, "domain": true, "title": null}}, "y": {"datum": 1.037, "type": "quantitative", "scale": {"domain": [0, 1], "nice": false, "zero": false}, "axis": {"orient": "left", "domain": true, "ticks": false, "labels": false, "grid": false, "title": null}}, "y2": {"datum": 0.963}}},
 {"data": {"values": [{}]}, "mark": {"type": "rule", "color": "#1a1a1a", "strokeWidth": 2}, "encoding": {"x": {"datum": -1545, "type": "quantitative", "axis": {"orient": "bottom", "values": [-1500,-1000,-500,0,500,1000], "grid": false, "ticks": false, "labels": true, "domain": true, "title": null, "labelExpr": "datum.value < 0 ? (-datum.value) + 'BC' : (datum.value == 0 ? 'AD' : datum.value + 'AD')", "labelFont": "Liberation Sans", "labelFontSize": 36, "labelPadding": 3, "labelFlush": false, "labelOverlap": false, "labelBaseline": "top"}}, "x2": {"datum": 1460}, "y": {"datum": 0.688, "type": "quantitative", "axis": null}}},
 {"data": {"name": "ticks"}, "mark": {"type": "rule", "color": "#1a1a1a", "strokeWidth": 1.3}, "encoding": {"x": {"field": "yr", "type": "quantitative", "axis": null}, "y": {"datum": 0, "type": "quantitative", "axis": null}, "y2": {"datum": 0.097}}}
]}
]
}
